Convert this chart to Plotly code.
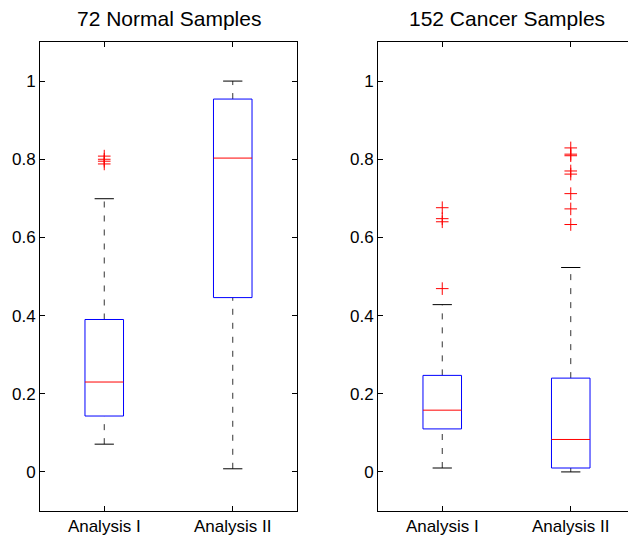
import plotly.graph_objects as go

# ---- data ----
categories = ["Analysis I", "Analysis II"]
panel_titles = ["72 Normal Samples", "152 Cancer Samples"]

normal_q1 = [0.143, 0.446]
normal_median = [0.230, 0.803]
normal_q3 = [0.390, 0.954]
normal_low = [0.071, 0.008]
normal_high = [0.699, 1.000]
normal_outliers = [[0.788, 0.795, 0.800, 0.808], []]

cancer_q1 = [0.110, 0.010]
cancer_median = [0.158, 0.083]
cancer_q3 = [0.247, 0.240]
cancer_low = [0.010, 0.000]
cancer_high = [0.428, 0.523]
cancer_outliers = [[0.469, 0.640, 0.648, 0.676],
                   [0.633, 0.673, 0.712, 0.762, 0.770, 0.809, 0.813, 0.829]]

ytick_vals = [0, 0.2, 0.4, 0.6, 0.8, 1]
ytick_text = ["0", "0.2", "0.4", "0.6", "0.8", "1"]

# ---- styling ----
W, H = 628, 536
BOX_HALF = 0.15
CAP_HALF = 0.075
FONT = "Liberation Sans, Arial, sans-serif"

fig = go.Figure()

panels = [
    (normal_q1, normal_median, normal_q3, normal_low, normal_high, normal_outliers, "x", "y"),
    (cancer_q1, cancer_median, cancer_q3, cancer_low, cancer_high, cancer_outliers, "x2", "y2"),
]

for q1s, meds, q3s, lows, highs, outs, xa, ya in panels:
    for i in range(len(categories)):
        xc = i + 1
        # whiskers (dashed)
        fig.add_trace(go.Scatter(
            x=[xc, xc, None, xc, xc], y=[q3s[i], highs[i], None, lows[i], q1s[i]],
            mode="lines", line=dict(color="#333333", width=1, dash="6px,8px"),
            xaxis=xa, yaxis=ya, showlegend=False, hoverinfo="skip"))
        # caps
        fig.add_trace(go.Scatter(
            x=[xc - CAP_HALF, xc + CAP_HALF, None, xc - CAP_HALF, xc + CAP_HALF],
            y=[highs[i], highs[i], None, lows[i], lows[i]],
            mode="lines", line=dict(color="black", width=1),
            xaxis=xa, yaxis=ya, showlegend=False, hoverinfo="skip"))
        # box
        fig.add_trace(go.Scatter(
            x=[xc - BOX_HALF, xc + BOX_HALF, xc + BOX_HALF, xc - BOX_HALF, xc - BOX_HALF],
            y=[q1s[i], q1s[i], q3s[i], q3s[i], q1s[i]],
            mode="lines", line=dict(color="#0000ff", width=1),
            xaxis=xa, yaxis=ya, showlegend=False, hoverinfo="skip"))
        # median
        fig.add_trace(go.Scatter(
            x=[xc - BOX_HALF, xc + BOX_HALF], y=[meds[i], meds[i]],
            mode="lines", line=dict(color="#ff0000", width=1),
            xaxis=xa, yaxis=ya, showlegend=False, hoverinfo="skip"))
        # outliers
        if outs[i]:
            fig.add_trace(go.Scatter(
                x=[xc] * len(outs[i]), y=outs[i], mode="markers",
                marker=dict(symbol="cross-thin", size=9,
                            line=dict(color="#ff0000", width=1)),
                xaxis=xa, yaxis=ya, showlegend=False, hoverinfo="skip"))

px_per_unit = 257 / 2.0
left_dom = [40 / W, 297 / W]
right_dom = [378 / W, 1.0]
right_max = 0.5 + (W - 378) / px_per_unit
ydom = [1 - 511 / H, 1 - 42 / H]

axis_common = dict(showline=True, linecolor="black", linewidth=1, ticks="inside",
                   ticklen=5, tickcolor="black", showgrid=False, zeroline=False,
                   automargin=False,
                   tickfont=dict(family=FONT, size=17, color="black"))

fig.update_layout(
    width=W, height=H, margin=dict(l=0, r=0, t=0, b=0, pad=0),
    paper_bgcolor="white", plot_bgcolor="white",
    xaxis=dict(domain=left_dom, range=[0.5, 2.5], tickvals=[1, 2], ticktext=categories,
               mirror="ticks", anchor="y", **axis_common),
    yaxis=dict(domain=ydom, range=[-0.1, 1.1], tickvals=ytick_vals, ticktext=ytick_text,
               mirror="ticks", anchor="x", **axis_common),
    xaxis2=dict(domain=right_dom, range=[0.5, right_max], tickvals=[1, 2], ticktext=categories,
                mirror="ticks", anchor="y2", **axis_common),
    yaxis2=dict(domain=ydom, range=[-0.1, 1.1], tickvals=ytick_vals, ticktext=ytick_text,
                mirror=False, anchor="x2", **axis_common),
)

title_centers = [(40 + 297) / 2 / W, (378 + 635) / 2 / W]
for t, xc in zip(panel_titles, title_centers):
    fig.add_annotation(text=t, x=xc, y=1 - 19 / H, xref="paper", yref="paper",
                       showarrow=False, xanchor="center", yanchor="middle",
                       font=dict(family=FONT, size=21, color="black"))

fig.write_html("out.html", config={"displayModeBar": False},
               post_script="document.body.style.margin='0';document.body.style.overflow='hidden';")
